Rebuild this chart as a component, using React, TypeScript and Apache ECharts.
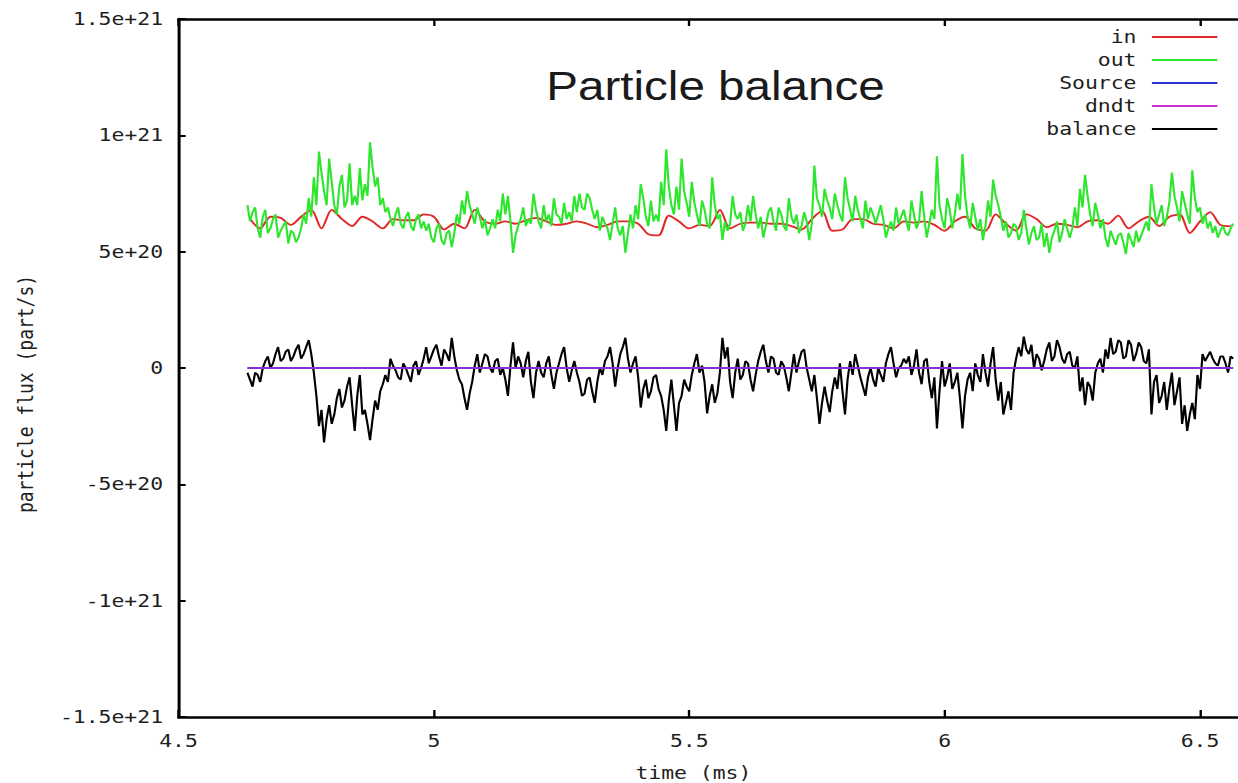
import React, { useEffect, useRef } from "react";
import * as echarts from "echarts";

// horizontal stretch of the reference picture
const SX = 1.19;
const FULL_W = 1238;
const FULL_H = 783;
const NATIVE_W = 1070; // wider than the visible 1238/SX, the right border lies past the picture edge

const SCALE = 1e20; // values below are in units of 1e20 part/s

const X_MIN = 4.5;
const X_MAX = 6.6;
const X_STEP = 0.5;
const Y_MIN = -1.5e21;
const Y_MAX = 1.5e21;
const Y_STEP = 5e20;

// "out" and "balance": samples every 0.01 ms from 4.635 ms, plus the readings half-way between them
const OUT_T0 = 4.635;
const OUT_DT = 0.01;
const outValues = [
  7.0, 6.7, 6.0, 6.5, 5.8, 6.4, 5.6, 6.1, 5.35, 5.8,
  5.6, 6.6, 7.3, 8.2, 9.3, 7.6, 9.0, 7.0, 7.8, 6.9,
  8.8, 7.4, 8.6, 7.9, 9.7, 7.8, 7.0, 6.7, 6.4, 6.6,
  6.2, 6.5, 6.1, 6.4, 6.0, 5.9, 5.6, 6.0, 5.5, 5.8,
  5.2, 6.6, 7.2, 7.6, 6.6, 6.9, 6.0, 5.7, 6.4, 6.8,
  7.5, 7.4, 4.95, 6.1, 6.9, 6.4, 7.5, 6.3, 7.0, 6.6,
  7.3, 6.5, 7.1, 6.7, 7.4,
  7.5, 6.8, 7.3, 6.4, 5.9, 6.2, 5.5, 6.9, 5.7, 4.95,
  6.6, 7.0, 7.9, 6.5, 7.2, 6.6, 8.0, 9.4, 7.0, 7.8,
  9.0, 7.1, 8.0, 6.6, 7.2, 6.2, 8.2, 6.4, 5.5, 5.9,
  7.4, 6.4, 5.9, 7.0, 7.4, 6.0, 5.6, 6.7, 6.3, 6.9,
  6.1, 7.3, 6.2, 5.8, 6.7, 5.5, 8.7, 7.0, 7.7, 6.9,
  7.5, 6.6, 8.2, 6.8, 7.4, 6.4, 7.2, 6.9, 6.2, 7.0,
  5.6, 6.3, 6.9, 6.5,
  6.3, 7.2, 6.0, 7.6, 5.6, 6.8, 9.1, 6.4, 7.3, 6.0,
  7.5, 9.2, 6.5, 7.1, 5.9, 5.5, 7.2, 8.1, 7.0, 5.9,
  5.6, 6.2, 5.5, 6.8, 5.3, 6.1, 5.6, 5.2, 4.95, 5.9,
  5.4, 6.4, 5.6, 6.9, 7.7, 8.3, 6.6, 7.1, 6.0, 5.6,
  5.9, 5.3, 5.8, 4.9, 5.5, 5.9, 5.7, 6.3, 7.9, 6.2,
  7.0, 6.5, 8.4, 6.9, 7.6, 6.6, 8.5, 6.7, 6.2, 6.0,
  5.8, 5.6, 6.1, 5.7, 6.2,
];
const outMidValues = [
  6.3, 6.9, 5.6, 6.8, 6.0, 6.6, 5.9, 6.3, 5.9, 5.4,
  6.0, 6.2, 6.5, 7.0, 8.4, 7.0, 8.0, 6.6, 8.3, 7.2,
  7.0, 7.0, 7.2, 7.4, 8.6, 8.2, 7.3, 6.9, 6.1, 6.9,
  6.0, 6.7, 5.9, 6.6, 6.3, 6.2, 5.4, 6.2, 5.3, 5.9,
  5.8, 6.2, 6.6, 7.0, 6.2, 6.5, 6.4, 6.0, 6.0, 6.3,
  6.6, 6.3, 5.7, 6.4, 6.1, 6.2, 6.8, 6.0, 6.3, 6.1,
  6.6, 6.2, 6.4, 6.3, 6.7,
  6.9, 7.5, 6.8, 6.8, 6.5, 6.0, 6.2, 6.0, 6.1, 5.8,
  6.0, 6.4, 7.3, 6.1, 6.3, 6.3, 7.0, 7.8, 6.6, 6.8,
  7.6, 6.5, 7.1, 6.1, 6.8, 6.0, 7.0, 6.6, 6.3, 6.2,
  6.6, 6.7, 6.2, 6.3, 6.6, 6.5, 6.1, 6.9, 5.9, 6.6,
  5.9, 6.5, 6.6, 6.1, 6.3, 6.2, 7.3, 6.5, 7.2, 6.4,
  7.0, 6.3, 7.3, 6.3, 6.8, 6.0, 6.4, 6.6, 6.6, 6.4,
  6.0, 5.9, 6.2, 6.8,
  5.9, 6.6, 6.3, 6.5, 6.2, 6.4, 7.0, 6.0, 6.8, 6.6,
  6.8, 7.4, 6.0, 6.5, 6.4, 6.1, 6.5, 7.4, 6.5, 6.3,
  5.8, 6.1, 5.8, 6.0, 5.8, 5.5, 6.2, 5.8, 5.6, 6.3,
  5.8, 6.0, 6.0, 6.1, 6.9, 7.4, 6.1, 6.6, 6.4, 5.2,
  5.6, 5.7, 5.4, 5.8, 5.2, 5.4, 6.0, 5.9, 6.9, 6.6,
  6.1, 7.1, 7.4, 6.3, 7.1, 6.2, 7.3, 6.9, 6.6, 6.3,
  6.1, 5.9, 5.8, 6.0,
];

const balanceValues = [
  -0.2, -0.8, -0.3, 0.0, 0.5, 0.2, 0.9, 0.4, 0.8, 0.5,
  1.0, 0.6, 1.2, -0.2, -2.5, -3.2, -1.6, -2.0, -0.9, -1.4,
  -0.4, -2.7, -0.3, -1.8, -3.1, -1.4, -1.0, -0.3, 0.4, -0.1,
  -0.5, 0.0, -0.6, 0.3, 0.0, 0.9, 0.5, 1.0, 0.1, 0.6,
  1.3, -0.1, -0.7, -1.8, -0.6, 0.6, 0.2, 0.5, -0.2, 0.4,
  0.0, -1.2, 1.1, 0.5, -0.4, 0.7, -1.3, 0.3, -0.4, 0.5,
  -0.9, 0.2, 0.9, -0.6, 0.3,
  -0.6, -1.1, -0.4, -1.5, 0.0, 0.3, 0.9, -0.8, 0.6, 1.3,
  -0.2, 0.5, -1.7, -0.5, -1.0, -0.3, -1.2, -2.7, -0.5, -2.7,
  -1.2, -0.8, -0.3, 0.6, 0.1, -1.95, -0.7, -1.1, 1.3, 0.9,
  -1.3, 0.4, -0.3, 0.2, -1.0, 0.3, 1.0, -0.2, 0.4, -0.3,
  0.1, -1.0, 0.6, 0.3, 0.8, -0.5, -0.3, -2.4, -0.8, -1.9,
  -0.4, 0.2, -2.0, 0.3, 0.6, -0.4, -1.2, 0.0, -0.8, -0.3,
  0.2, 0.9, -0.4, 0.1,
  0.2, -0.3, 0.8, -0.7, 0.4, -1.3, -2.6, 0.3, -0.4, -0.9,
  -0.2, -2.6, -0.5, -1.0, -0.3, 0.6, -0.8, 0.9, -1.4, -2.0,
  -1.0, -0.2, 0.9, 1.35, 0.6, 0.0, 0.4, 0.3, 1.1, 0.5,
  0.9, 0.2, 0.7, 0.0, -1.0, -1.6, -0.8, -0.2, 0.4, 0.8,
  1.3, 0.7, 1.1, 0.5, 1.0, 0.6, 0.9, 0.2, -2.0, -0.3,
  -1.2, -1.8, -0.2, -1.0, -2.4, -2.7, -1.5, -0.3, 0.6, 0.5,
  0.4, 0.1, 0.5, -0.2, 0.4,
];
const balanceMidValues = [
  -0.5, -0.2, -0.6, 0.3, 0.0, 0.6, 0.3, 0.7, 0.3, 0.8,
  0.4, 0.9, 0.6, -1.2, -1.8, -2.2, -2.4, -1.3, -1.7, -0.8,
  -1.6, -1.2, -2.0, -2.4, -2.2, -1.8, -0.7, -0.6, 0.1, -0.4,
  0.2, -0.3, 0.1, -0.3, 0.4, 0.2, 0.8, 0.5, 0.8, 0.3,
  0.5, -0.5, -1.3, -1.1, 0.1, -0.2, 0.6, 0.0, 0.3, -0.3,
  -0.5, 0.1, 0.0, 0.2, 0.3, -0.6, -0.2, -0.2, 0.2, -0.3,
  -0.2, 0.6, 0.0, -0.1, -0.2,
  -1.2, -0.5, -1.0, -0.6, -0.3, 0.5, 0.2, 0.0, 0.9, 0.4,
  0.2, -0.4, -0.9, -1.3, -0.4, -0.9, -1.8, -1.4, -1.6, -1.5,
  -0.5, -1.0, 0.2, -0.2, -0.6, -1.2, -1.5, -0.2, 0.4, -0.6,
  -0.2, -0.5, 0.3, -0.5, -0.3, 0.7, 0.3, 0.5, -0.2, 0.3,
  -0.4, -0.2, -0.2, 0.7, 0.0, -1.0, -1.3, -1.5, -1.4, -1.0,
  -0.9, -1.0, -0.5, -0.3, 0.1, -0.8, -0.4, -0.5, 0.0, -0.6,
  0.6, 0.2, 0.0, 0.4,
  0.5, 0.1, -0.2, 0.3, -0.6, -0.4, -1.0, -0.8, 0.2, -0.6,
  -1.3, -1.2, -0.2, 0.2, -0.6, -0.2, 0.2, -0.5, -0.6, -1.5,
  -1.8, 0.4, 0.5, 0.8, 1.0, 0.6, -0.1, 0.8, 0.3, 1.2,
  0.4, 0.6, 0.1, 0.5, -0.4, -0.6, -1.4, 0.2, -0.2, 0.4,
  0.6, 1.2, 0.4, 1.2, 0.3, 1.1, 0.3, 0.8, -0.6, -1.5,
  -0.6, -0.9, -1.6, -0.4, -1.6, -2.0, -2.2, -0.9, 0.3, 0.7,
  0.2, 0.5, 0.2, 0.5,
];

// "in" sampled every 0.02 ms from 4.64 ms
const IN_T0 = 4.64;
const IN_DT = 0.02;
const inValues = [
  6.4, 6.0, 6.5, 6.45, 6.15, 6.5, 6.8, 6.0, 6.8, 6.4,
  6.1, 6.5, 6.3, 6.0, 6.4, 6.35, 6.35, 6.6, 6.5, 5.95,
  6.2, 6.0, 6.8, 6.3, 6.2, 6.3, 6.2, 6.35, 6.45, 6.3,
  6.15, 6.2, 6.3, 6.2, 6.05, 6.15, 6.3, 6.3, 6.2, 5.75,
  5.7, 6.55, 6.3, 6.0, 6.15, 6.1, 6.8, 6.0, 6.2, 6.25,
  6.25, 6.2, 6.2, 6.1, 5.95, 6.4, 6.75, 5.9, 5.95, 6.4,
  6.4, 6.2, 6.15, 6.0, 6.3, 6.25, 6.3, 6.15, 5.9, 6.3,
  6.5, 6.0, 5.9, 6.6, 6.2, 5.9, 6.6, 6.4, 6.05, 6.2,
  6.15, 6.05, 6.3, 6.35, 6.2, 6.55, 6.0, 6.3, 6.5, 6.1,
  6.5, 6.6, 5.8, 6.3, 6.7, 6.15, 6.1,
];

// Source and dndt stay at zero over the run
const zeroTimes = [4.635, 6.565];
const sourceValues = [0, 0];
const dndtValues = [0, 0];

const seriesNames = ["in", "out", "Source", "dndt", "balance"];
const seriesColors = ["#e02828", "#2ee62e", "#3030d0", "#d030d0", "#000000"];

const MONO = "'DejaVu Sans Mono', monospace";
const TEXT_COLOR = "#1e1e1e";

function sampled(t0: number, dt: number, vals: number[]) {
  return vals.map((v, i) => [+(t0 + i * dt).toFixed(4), v * SCALE]);
}
function sampledWithMid(t0: number, dt: number, vals: number[], mids: number[]) {
  const out: number[][] = [];
  vals.forEach((v, i) => {
    out.push([+(t0 + i * dt).toFixed(4), v * SCALE]);
    if (i < mids.length && i < vals.length - 1) {
      out.push([+(t0 + (i + 0.5) * dt).toFixed(4), mids[i] * SCALE]);
    }
  });
  return out;
}
function paired(ts: number[], vals: number[]) {
  return vals.map((v, i) => [ts[i], v * SCALE]);
}

function fmtY(v: number) {
  if (Math.abs(v) < 1) return "0";
  return Number(v.toPrecision(3)).toExponential();
}
function fmtX(v: number) {
  const k = v / X_STEP;
  if (Math.abs(k - Math.round(k)) > 1e-6) return "";
  return String(Number(v.toFixed(2)));
}

export default function App() {
  const ref = useRef<HTMLDivElement>(null);
  useEffect(() => {
    if (!ref.current) return;
    const chart = echarts.init(ref.current, undefined, { renderer: "svg" });

    const gridLeft = 150;
    const gridTop = 19;
    const gridBottom = 66;
    // right border of the plot frame lies just past the picture edge (at 6.6 ms)
    const plotRight = (179 + (X_MAX - X_MIN) * 510.5) / SX;
    const gridRight = NATIVE_W - plotRight;

    const legendRows = [38, 61, 84, 107, 130];
    const axisLineStyle = { color: "#000", width: 2.5 };

    const option: any = {
      animation: false,
      backgroundColor: "#ffffff",
      title: {
        text: "Particle balance",
        left: 454,
        top: 61,
        textStyle: {
          fontFamily: "'Liberation Sans', Arial, sans-serif",
          fontSize: 40,
          fontWeight: "normal",
          color: "#1a1a1a",
        },
      },
      legend: seriesNames.map((name, i) => ({
        data: [{ name, icon: "rect" }],
        orient: "vertical",
        align: "right",
        right: NATIVE_W - 1023,
        top: legendRows[i] - 10,
        padding: 0,
        itemWidth: 55,
        itemHeight: 2,
        selectedMode: false,
        textStyle: {
          fontFamily: MONO,
          fontSize: 18,
          color: TEXT_COLOR,
          padding: [0, 8, 0, 0],
        },
      })),
      grid: {
        left: gridLeft,
        right: gridRight,
        top: gridTop,
        bottom: gridBottom,
        containLabel: false,
        outerBoundsMode: "none",
      },
      xAxis: [
        {
          type: "value",
          min: X_MIN,
          max: X_MAX,
          interval: X_STEP,
          position: "bottom",
          name: "time (ms)",
          nameLocation: "middle",
          nameGap: 47,
          nameTextStyle: {
            fontFamily: MONO,
            fontSize: 18,
            color: TEXT_COLOR,
            padding: [0, 36, 0, 0],
          },
          axisLine: { show: true, onZero: false, lineStyle: axisLineStyle },
          axisTick: { show: true, inside: true, length: 7, lineStyle: { color: "#000", width: 2 } },
          axisLabel: {
            formatter: fmtX,
            showMaxLabel: false,
            margin: 15,
            fontFamily: MONO,
            fontSize: 18,
            color: TEXT_COLOR,
          },
          splitLine: { show: false },
        },
        {
          type: "value",
          min: X_MIN,
          max: X_MAX,
          interval: X_STEP,
          position: "top",
          axisLine: { show: true, onZero: false, lineStyle: axisLineStyle },
          axisTick: { show: true, inside: true, length: 7, lineStyle: { color: "#000", width: 2 } },
          axisLabel: { show: false },
          splitLine: { show: false },
        },
      ],
      yAxis: [
        {
          type: "value",
          min: Y_MIN,
          max: Y_MAX,
          interval: Y_STEP,
          position: "left",
          name: "particle flux (part/s)",
          nameLocation: "middle",
          nameGap: 119,
          nameTextStyle: {
            fontFamily: MONO,
            fontSize: 18,
            color: TEXT_COLOR,
            padding: [0, 52, 0, 0],
          },
          axisLine: { show: true, onZero: false, lineStyle: { color: "#000", width: 2.5 } },
          axisTick: { show: true, inside: true, length: 6, lineStyle: { color: "#000", width: 2 } },
          axisLabel: {
            formatter: fmtY,
            margin: 13,
            fontFamily: MONO,
            fontSize: 18,
            color: TEXT_COLOR,
          },
          splitLine: { show: false },
        },
        {
          type: "value",
          min: Y_MIN,
          max: Y_MAX,
          interval: Y_STEP,
          position: "right",
          axisLine: { show: true, onZero: false, lineStyle: { color: "#000", width: 2.5 } },
          axisTick: { show: true, inside: true, length: 9, lineStyle: { color: "#000", width: 2 } },
          axisLabel: { show: false },
          splitLine: { show: false },
        },
      ],
      series: [
        {
          name: "in",
          type: "line",
          data: sampled(IN_T0, IN_DT, inValues),
          showSymbol: false,
          smooth: 0.3,
          color: seriesColors[0],
          lineStyle: { width: 1.8, color: seriesColors[0] },
          z: 2,
        },
        {
          name: "out",
          type: "line",
          data: sampledWithMid(OUT_T0, OUT_DT, outValues, outMidValues),
          showSymbol: false,
          color: seriesColors[1],
          lineStyle: { width: 1.8, color: seriesColors[1] },
          z: 3,
        },
        {
          name: "balance",
          type: "line",
          data: sampledWithMid(OUT_T0, OUT_DT, balanceValues, balanceMidValues),
          showSymbol: false,
          color: seriesColors[4],
          lineStyle: { width: 1.8, color: seriesColors[4] },
          z: 4,
        },
        {
          name: "Source",
          type: "line",
          data: paired(zeroTimes, sourceValues),
          showSymbol: false,
          color: seriesColors[2],
          lineStyle: { width: 2.2, color: seriesColors[2] },
          z: 5,
        },
        {
          name: "dndt",
          type: "line",
          data: paired(zeroTimes, dndtValues),
          showSymbol: false,
          color: seriesColors[3],
          lineStyle: { width: 2.2, color: seriesColors[3], opacity: 0.55 },
          z: 6,
        },
      ],
    };
    chart.setOption(option);
    return () => chart.dispose();
  }, []);

  return (
    <div
      style={{
        position: "absolute",
        left: 0,
        top: 0,
        width: FULL_W,
        height: FULL_H,
        overflow: "hidden",
        background: "#fff",
      }}
    >
      <div
        ref={ref}
        style={{
          width: NATIVE_W,
          height: FULL_H,
          transform: `scaleX(${SX})`,
          transformOrigin: "0 0",
        }}
      />
    </div>
  );
}
